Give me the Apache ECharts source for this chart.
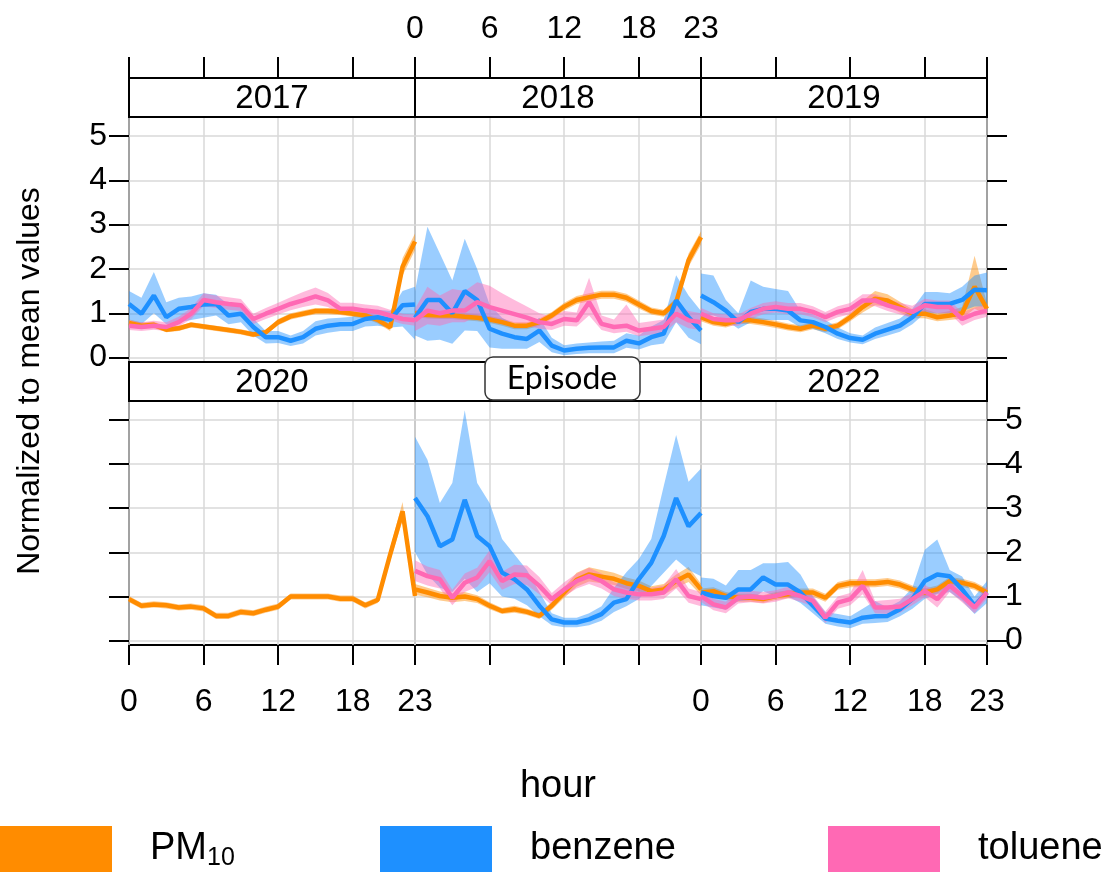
<!DOCTYPE html>
<html><head><meta charset="utf-8">
<script src="https://cdn.jsdelivr.net/npm/echarts@6/dist/echarts.min.js"></script>
<style>html,body{margin:0;padding:0;background:#fff}#c{width:1113px;height:872px}</style>
</head><body><div id="c"></div><script>
// ---------- data (hour 0..23) ----------
const hours = ['0','1','2','3','4','5','6','7','8','9','10','11','12','13','14','15','16','17','18','19','20','21','22','23'];
const xTickHours = [0,6,12,18,23];
const yTicks = [0,1,2,3,4,5];
const panelTitles = ['2017','2018','2019','2020','Episode','2022'];
const pollutantNames = ['PM10','benzene','toluene'];

// 2017
const pm_2017    = [0.78,0.72,0.74,0.63,0.66,0.74,0.70,0.66,0.62,0.58,0.52,0.57,0.80,0.93,0.99,1.05,1.05,1.03,0.99,0.95,0.85,0.68,2.05,2.62];
const pm_2017_lo = [0.70,0.65,0.67,0.57,0.60,0.68,0.64,0.60,0.56,0.52,0.46,0.51,0.73,0.86,0.92,0.98,0.98,0.96,0.92,0.88,0.77,0.60,1.85,2.42];
const pm_2017_hi = [0.86,0.79,0.81,0.70,0.72,0.80,0.76,0.72,0.68,0.64,0.58,0.63,0.87,1.00,1.06,1.12,1.12,1.10,1.06,1.02,0.93,0.76,2.25,2.80];
const bz_2017    = [1.21,0.99,1.40,0.91,1.10,1.14,1.20,1.21,0.95,0.99,0.69,0.46,0.46,0.38,0.46,0.65,0.72,0.75,0.76,0.87,0.91,0.85,1.18,1.20];
const bz_2017_lo = [0.85,0.75,1.00,0.75,0.80,0.85,0.90,0.95,0.75,0.80,0.50,0.32,0.33,0.26,0.32,0.50,0.56,0.60,0.60,0.70,0.72,0.68,0.70,0.40];
const bz_2017_hi = [1.50,1.35,1.93,1.25,1.35,1.38,1.45,1.42,1.20,1.15,0.88,0.60,0.60,0.50,0.60,0.82,0.88,0.90,0.92,1.05,1.08,1.05,1.50,1.60];
const tl_2017    = [0.72,0.69,0.72,0.69,0.80,0.99,1.30,1.25,1.21,1.18,0.87,0.99,1.10,1.21,1.29,1.38,1.29,1.10,1.10,1.06,1.03,0.95,0.87,0.84];
const tl_2017_lo = [0.62,0.60,0.63,0.60,0.70,0.87,1.16,1.12,1.08,1.05,0.76,0.87,0.97,1.07,1.14,1.20,1.14,0.98,0.98,0.94,0.92,0.84,0.76,0.72];
const tl_2017_hi = [0.84,0.80,0.83,0.80,0.92,1.12,1.45,1.40,1.36,1.32,0.99,1.12,1.24,1.36,1.48,1.58,1.46,1.24,1.24,1.20,1.17,1.08,0.99,0.97];
// 2018
const pm_2018    = [1.00,0.96,0.95,0.95,0.92,0.90,0.86,0.80,0.72,0.72,0.80,0.95,1.15,1.30,1.36,1.42,1.42,1.35,1.20,1.05,1.00,1.25,2.20,2.72];
const pm_2018_lo = [0.92,0.88,0.87,0.87,0.84,0.82,0.78,0.72,0.64,0.64,0.72,0.87,1.06,1.21,1.27,1.33,1.33,1.26,1.11,0.97,0.92,1.15,2.05,2.55];
const pm_2018_hi = [1.08,1.04,1.03,1.03,1.00,0.98,0.94,0.88,0.80,0.80,0.88,1.03,1.24,1.39,1.45,1.51,1.51,1.44,1.29,1.13,1.08,1.35,2.35,2.85];
const bz_2018    = [0.90,1.30,1.30,1.00,1.50,1.30,0.65,0.54,0.46,0.42,0.61,0.27,0.16,0.20,0.22,0.23,0.23,0.38,0.32,0.46,0.54,1.29,0.91,0.61];
const bz_2018_lo = [0.50,0.38,0.40,0.31,0.61,0.60,0.23,0.20,0.20,0.20,0.35,0.12,0.05,0.08,0.10,0.10,0.10,0.22,0.18,0.28,0.32,0.80,0.45,0.30];
const bz_2018_hi = [1.50,2.95,2.35,1.74,2.68,2.00,1.20,0.90,0.75,0.70,0.90,0.45,0.28,0.32,0.34,0.36,0.38,0.55,0.50,0.70,0.85,1.86,1.40,1.05];
const tl_2018    = [0.84,1.06,1.00,1.06,1.06,1.25,1.14,1.06,0.98,0.90,0.80,0.76,0.87,0.84,1.25,0.76,0.69,0.72,0.61,0.65,0.69,0.99,0.84,0.80];
const tl_2018_lo = [0.60,0.75,0.72,0.80,0.80,0.95,0.88,0.82,0.78,0.72,0.65,0.62,0.72,0.70,0.95,0.62,0.55,0.58,0.48,0.52,0.55,0.80,0.66,0.62];
const tl_2018_hi = [1.10,1.60,1.40,1.55,1.50,1.70,1.62,1.45,1.30,1.15,1.00,0.92,1.05,1.02,1.80,0.95,0.86,1.20,0.78,0.82,0.86,1.20,1.05,1.00];
// 2019
const pm_2019    = [0.91,0.80,0.76,0.84,0.84,0.80,0.75,0.69,0.65,0.72,0.65,0.72,0.91,1.14,1.33,1.29,1.14,0.99,0.99,0.91,0.95,1.00,1.60,1.10];
const pm_2019_lo = [0.82,0.72,0.68,0.76,0.76,0.72,0.67,0.61,0.57,0.64,0.57,0.64,0.82,1.02,1.18,1.15,1.02,0.89,0.89,0.82,0.85,0.88,1.10,0.98];
const pm_2019_hi = [1.00,0.88,0.84,0.92,0.92,0.88,0.83,0.77,0.73,0.80,0.73,0.80,1.00,1.28,1.50,1.43,1.26,1.09,1.09,1.00,1.05,1.14,2.30,1.22];
const bz_2019    = [1.40,1.25,1.06,0.80,1.03,1.10,1.10,1.06,0.84,0.80,0.69,0.54,0.44,0.40,0.54,0.63,0.72,0.91,1.21,1.21,1.21,1.30,1.53,1.52];
const bz_2019_lo = [0.95,0.95,0.85,0.65,0.80,0.85,0.85,0.85,0.68,0.65,0.55,0.42,0.34,0.30,0.42,0.50,0.58,0.75,1.00,1.00,1.00,1.05,1.15,1.15];
const bz_2019_hi = [1.90,1.85,1.30,1.00,1.74,1.60,1.55,1.50,1.05,0.98,0.85,0.68,0.55,0.50,0.68,0.78,0.88,1.10,1.48,1.48,1.45,1.60,1.85,1.92];
const tl_2019    = [0.99,0.87,0.84,0.84,0.99,1.10,1.14,1.10,1.10,1.03,0.91,1.03,1.10,1.29,1.29,1.18,1.10,1.03,1.18,1.14,1.14,0.87,0.99,1.06];
const tl_2019_lo = [0.86,0.75,0.72,0.72,0.87,0.98,1.02,0.98,0.98,0.91,0.80,0.91,0.98,1.16,1.16,1.05,0.97,0.90,1.04,1.00,1.00,0.72,0.85,0.92];
const tl_2019_hi = [1.12,1.00,0.97,0.97,1.12,1.23,1.27,1.23,1.23,1.16,1.03,1.16,1.23,1.43,1.43,1.32,1.24,1.17,1.33,1.29,1.29,1.02,1.13,1.20];
// 2020 (PM10 only)
const pm_2020    = [0.94,0.79,0.82,0.80,0.75,0.77,0.73,0.56,0.56,0.65,0.62,0.70,0.77,1.00,1.00,1.00,1.00,0.95,0.95,0.80,0.92,1.95,2.93,1.01];
const pm_2020_lo = [0.87,0.72,0.75,0.73,0.68,0.70,0.66,0.49,0.49,0.58,0.55,0.63,0.70,0.93,0.93,0.93,0.93,0.88,0.88,0.73,0.85,1.80,2.72,0.94];
const pm_2020_hi = [1.01,0.86,0.89,0.87,0.82,0.84,0.80,0.63,0.63,0.72,0.69,0.77,0.84,1.07,1.07,1.07,1.07,1.02,1.02,0.87,0.99,2.10,3.14,1.08];
// Episode
const pm_ep    = [1.16,1.09,1.01,0.97,1.00,0.94,0.79,0.67,0.71,0.65,0.56,0.79,1.09,1.38,1.50,1.45,1.40,1.30,1.24,1.12,1.16,1.35,1.50,1.16];
const pm_ep_lo = [1.04,0.98,0.91,0.87,0.90,0.85,0.71,0.60,0.63,0.58,0.49,0.70,0.97,1.22,1.34,1.30,1.26,1.17,1.12,1.01,1.04,1.20,1.33,1.03];
const pm_ep_hi = [1.28,1.20,1.11,1.07,1.10,1.03,0.87,0.74,0.79,0.72,0.63,0.88,1.21,1.54,1.66,1.60,1.54,1.43,1.36,1.23,1.28,1.50,1.67,1.29];
const bz_ep    = [3.23,2.82,2.14,2.29,3.19,2.37,2.14,1.54,1.39,1.16,0.79,0.48,0.41,0.41,0.48,0.60,0.86,0.94,1.39,1.76,2.37,3.23,2.59,2.89];
const bz_ep_lo = [2.00,1.50,1.20,1.10,1.40,1.10,1.30,1.00,0.95,0.80,0.55,0.35,0.30,0.30,0.35,0.45,0.65,0.78,0.94,1.24,1.54,1.84,1.60,1.46];
const bz_ep_hi = [4.62,4.10,3.12,3.57,5.22,3.57,3.12,2.30,1.95,1.60,1.10,0.62,0.52,0.52,0.62,0.78,1.20,1.55,1.85,2.30,3.50,4.66,3.60,3.90];
const tl_ep    = [1.58,1.46,1.39,0.97,1.31,1.43,1.80,1.35,1.50,1.48,1.24,0.94,1.16,1.35,1.46,1.35,1.16,1.09,1.05,1.05,1.09,1.39,1.01,0.94];
const tl_ep_lo = [1.35,1.25,1.18,0.80,1.10,1.22,1.55,1.15,1.28,1.26,1.05,0.80,1.00,1.18,1.28,1.18,1.01,0.95,0.91,0.91,0.94,1.18,0.86,0.78];
const tl_ep_hi = [1.82,1.68,1.60,1.15,1.52,1.65,2.05,1.56,1.72,1.70,1.44,1.08,1.32,1.52,1.65,1.52,1.32,1.24,1.20,1.20,1.25,1.62,1.18,1.10];
// 2022
const pm_2022    = [1.09,1.12,1.01,0.97,0.97,0.94,1.01,1.05,1.09,1.09,0.97,1.24,1.30,1.30,1.30,1.33,1.27,1.16,1.09,1.16,1.35,1.31,1.24,1.09];
const pm_2022_lo = [1.00,1.03,0.92,0.88,0.88,0.85,0.92,0.96,1.00,1.00,0.88,1.15,1.21,1.21,1.21,1.24,1.18,1.07,1.00,1.07,1.26,1.22,1.15,1.00];
const pm_2022_hi = [1.18,1.21,1.10,1.06,1.06,1.03,1.10,1.14,1.18,1.18,1.06,1.33,1.39,1.39,1.39,1.42,1.36,1.25,1.18,1.25,1.44,1.40,1.33,1.18];
const bz_2022    = [1.09,1.01,0.97,1.16,1.16,1.43,1.27,1.27,1.09,0.79,0.50,0.45,0.41,0.52,0.55,0.56,0.71,0.94,1.35,1.50,1.46,1.16,0.79,1.09];
const bz_2022_lo = [0.80,0.75,0.70,0.90,0.92,1.12,1.00,1.00,0.85,0.62,0.38,0.32,0.28,0.38,0.40,0.42,0.55,0.72,0.95,1.05,1.10,0.90,0.60,0.85];
const bz_2022_hi = [1.43,1.40,1.25,1.60,1.60,1.75,1.75,1.78,1.50,1.00,0.65,0.60,0.55,0.72,0.90,0.75,0.90,1.20,2.06,2.29,1.60,1.45,1.00,1.35];
const tl_2022    = [1.01,0.82,0.75,0.97,1.00,0.97,1.01,1.09,1.01,0.90,0.52,0.86,0.94,1.24,0.75,0.75,0.77,0.94,1.12,0.94,1.25,1.01,0.75,1.09];
const tl_2022_lo = [0.88,0.69,0.62,0.84,0.87,0.84,0.88,0.96,0.88,0.77,0.40,0.72,0.80,1.05,0.62,0.60,0.63,0.80,0.98,0.75,1.10,0.87,0.62,0.95];
const tl_2022_hi = [1.14,0.95,0.88,1.10,1.13,1.10,1.14,1.22,1.14,1.03,0.66,1.00,1.08,1.60,0.90,0.92,0.95,1.08,1.26,1.10,1.40,1.15,0.88,1.23];

// ---------- layout / style ----------
const L = [129, 415, 701], W = 286, T = [117, 401], H = [245, 244], STRIP = 39;
const COLORS = {PM10:'#FF8C00', benzene:'#1E90FF', toluene:'#FF69B4'};
const FONT = '"Liberation Sans", Arial, sans-serif';
const Y_MIN = -0.1, Y_MAX = 5.43;

const panels = [
  [['PM10',pm_2017,pm_2017_lo,pm_2017_hi],['benzene',bz_2017,bz_2017_lo,bz_2017_hi],['toluene',tl_2017,tl_2017_lo,tl_2017_hi]],
  [['PM10',pm_2018,pm_2018_lo,pm_2018_hi],['benzene',bz_2018,bz_2018_lo,bz_2018_hi],['toluene',tl_2018,tl_2018_lo,tl_2018_hi]],
  [['PM10',pm_2019,pm_2019_lo,pm_2019_hi],['benzene',bz_2019,bz_2019_lo,bz_2019_hi],['toluene',tl_2019,tl_2019_lo,tl_2019_hi]],
  [['PM10',pm_2020,pm_2020_lo,pm_2020_hi]],
  [['PM10',pm_ep,pm_ep_lo,pm_ep_hi],['benzene',bz_ep,bz_ep_lo,bz_ep_hi],['toluene',tl_ep,tl_ep_lo,tl_ep_hi]],
  [['PM10',pm_2022,pm_2022_lo,pm_2022_hi],['benzene',bz_2022,bz_2022_lo,bz_2022_hi],['toluene',tl_2022,tl_2022_lo,tl_2022_hi]]
];

const isXTick = idx => xTickHours.indexOf(idx) >= 0;
const grid = [], xAxis = [], yAxis = [], series = [], graphic = [];
const tickLabel = {color:'#000', fontSize:32, fontFamily:FONT};
const gridLine = {color:'#d9d9d9', width:1.5};

panels.forEach((pan, i) => {
  const row = Math.floor(i/3), col = i%3;
  grid.push({left:L[col], top:T[row], width:W, height:H[row], show:true,
    borderColor:'#000', borderWidth:2, backgroundColor:'transparent', outerBoundsMode:'none'});
  const xi = xAxis.length;
  const bottomLabels = row === 1 && col !== 1;
  xAxis.push({type:'category', data:hours, boundaryGap:false, gridIndex:i, position:'bottom',
    axisLine:{show:false, onZero:false},
    splitLine:{show:true, interval:(idx)=>isXTick(idx), lineStyle:gridLine},
    axisTick:{show: row===1, inside:false, length:20, interval:(idx)=>isXTick(idx), lineStyle:{color:'#000', width:2}},
    axisLabel:{show: bottomLabels, margin:41, ...tickLabel, interval:(idx)=>isXTick(idx)},
    name: (row===1 && col===1) ? 'hour' : '', nameLocation:'middle', nameGap:123,
    nameTextStyle:{color:'#000', fontSize:38, fontFamily:FONT}});
  if (row === 0) {
    xAxis.push({type:'category', data:hours, boundaryGap:false, gridIndex:i, position:'top', offset:STRIP,
      axisLine:{show:false, onZero:false}, splitLine:{show:false},
      axisTick:{show:true, inside:false, length:21, interval:(idx)=>isXTick(idx), lineStyle:{color:'#000', width:2}},
      axisLabel:{show: col===1, margin:33, ...tickLabel, interval:(idx)=>isXTick(idx)}});
  }
  const yi = yAxis.length;
  yAxis.push({type:'value', gridIndex:i, position:'left', min:Y_MIN, max:Y_MAX, minInterval:1, maxInterval:1,
    axisLine:{show:false, onZero:false}, splitLine:{show:true, lineStyle:gridLine},
    axisTick:{show: col===0, inside:false, length:20, lineStyle:{color:'#000', width:2}, customValues:yTicks},
    axisLabel:{show: col===0 && row===0, margin:22, ...tickLabel, customValues:yTicks}});
  if (col === 2) {
    yAxis.push({type:'value', gridIndex:i, position:'right', min:Y_MIN, max:Y_MAX, minInterval:1, maxInterval:1,
      axisLine:{show:false, onZero:false}, splitLine:{show:false},
      axisTick:{show:true, inside:false, length:20, lineStyle:{color:'#000', width:2}, customValues:yTicks},
      axisLabel:{show: row===1, margin:18, ...tickLabel, customValues:yTicks}});
  }
  // per pollutant: band then line (later pollutants drawn over earlier ones)
  pan.forEach(([name, mean, lo, hi]) => {
    const c = COLORS[name];
    const stackId = 'band' + i + name;
    series.push({type:'line', name: name + ' lower', xAxisIndex:xi, yAxisIndex:yi, stack:stackId, stackStrategy:'all',
      data: lo.slice(), symbol:'none', lineStyle:{width:0, opacity:0}, silent:true, z:2, color:c});
    series.push({type:'line', name: name + ' band', xAxisIndex:xi, yAxisIndex:yi, stack:stackId, stackStrategy:'all',
      data: hi.map((v, h) => +(v - lo[h]).toFixed(3)), symbol:'none', lineStyle:{width:0, opacity:0},
      areaStyle:{color:c, opacity:0.45}, silent:true, z:2, color:c});
    series.push({type:'line', name, xAxisIndex:xi, yAxisIndex:yi, data: mean.slice(),
      symbol:'none', lineStyle:{color:c, width:4.5}, color:c, silent:true, z:2});
  });
  graphic.push({type:'rect', z:50, shape:{x:L[col], y:T[row]-STRIP, width:W, height:STRIP},
    style:{fill:'#fff', stroke:'#000', lineWidth:2}});
  if (panelTitles[i] !== 'Episode') {
    graphic.push({type:'text', z:51, x:L[col]+W/2, y:T[row]-STRIP/2+1,
      style:{text:panelTitles[i], fill:'#000', font:'33px ' + FONT, textAlign:'center', textVerticalAlign:'middle'}});
  } else {
    graphic.push({type:'rect', z:60, shape:{x:485, y:357, width:155, height:43, r:8},
      style:{fill:'#fff', stroke:'#333', lineWidth:1.5}});
    graphic.push({type:'text', z:61, x:562, y:379,
      style:{text:panelTitles[i], fill:'#000', font:'32px Lato, "Open Sans", sans-serif', textAlign:'center', textVerticalAlign:'middle'}});
  }
});

graphic.push({type:'text', z:51, x:30, y:381, rotation:Math.PI/2,
  style:{text:'Normalized to mean values', fill:'#000', font:'32px ' + FONT, textAlign:'center', textVerticalAlign:'middle'}});

const legendLefts = [0, 380, 828];
const legend = pollutantNames.map((n, k) => ({
  left: legendLefts[k], top: 826, padding:0, itemWidth:112, itemHeight:46, selectedMode:false,
  data:[{name:n, icon:'rect', itemStyle:{color:COLORS[n], opacity:1, borderWidth:0}}],
  formatter: nm => nm === 'PM10' ? '{g|}{a|PM}{s|10}' : '{g|}{a|' + nm + '}',
  textStyle:{color:'#000', rich:{
    g:{width:33},
    a:{fontSize:38, fontFamily:FONT, color:'#000', lineHeight:44},
    s:{fontSize:25, fontFamily:FONT, color:'#000', lineHeight:22, verticalAlign:'bottom'}
  }}
}));

const chart = echarts.init(document.getElementById('c'), null, {renderer:'canvas'});
chart.setOption({animation:false, backgroundColor:'#fff', grid, xAxis, yAxis, series, graphic, legend});
</script></body></html>
